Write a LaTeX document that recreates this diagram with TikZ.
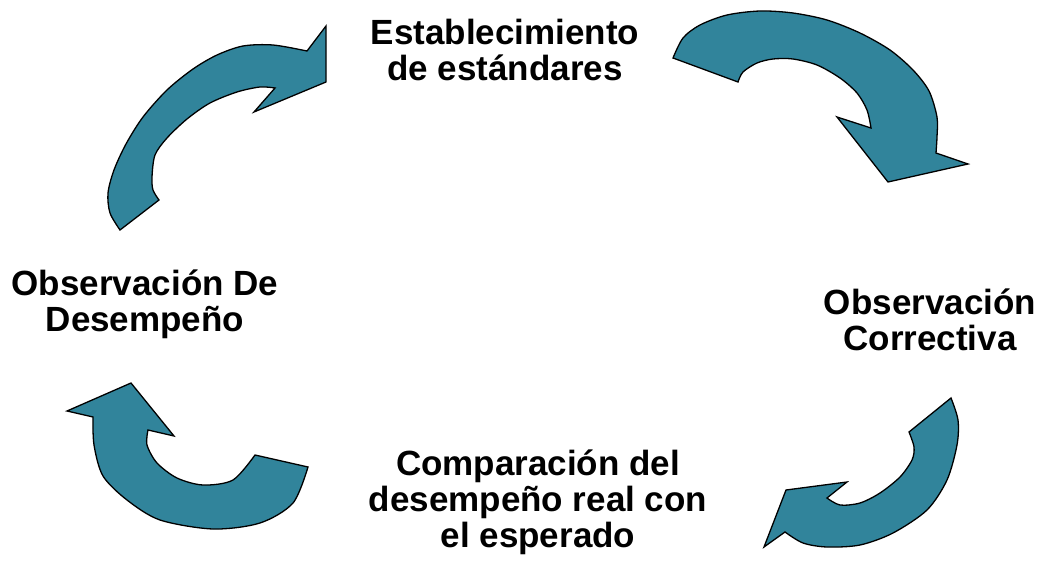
\documentclass[tikz,border=0pt]{standalone}
\usepackage{fontspec}
\setmainfont{Liberation Sans}
\definecolor{teal}{RGB}{49,132,155}
\begin{document}
\begin{tikzpicture}[x=1pt,y=-1pt,
  cyclearrow/.style={fill=teal,draw=black,line width=1.3pt,line join=miter},
  lbl/.style={align=center,inner sep=0pt,anchor=base,font=\bfseries\fontsize{35}{36}\selectfont}]
\useasboundingbox (0,0) rectangle (1042,572);
% arrow top-left
\draw[cyclearrow] (120,230) -- (159,200)
  -- plot[smooth] coordinates {(159,200) (153,190) (152,177) (155,155) (167,138) (187,119) (210,103) (237,92) (260,87) (275,88)}
  -- (254,112) -- (326,82) -- (326,26) -- (307,51)
  -- plot[smooth] coordinates {(307,51) (273,45) (243,46) (217,55) (193,69) (167,90) (143,117) (126,144) (114,170) (108,193) (110,213) (120,230)}
  -- cycle;
% arrow top-right
\draw[cyclearrow] (673,58) -- (738,82)
  -- plot[smooth] coordinates {(738,82) (743,72) (757,63) (773,59) (793,59) (817,65) (840,78) (857,93) (867,110) (871,128)}
  -- (837,117) -- (888,182) -- (968,164) -- (936,153)
  -- plot[smooth] coordinates {(936,153) (937,137) (937,117) (929,91) (913,70) (890,50) (860,33) (827,20) (793,13) (760,11) (727,15) (700,25) (683,38) (673,58)}
  -- cycle;
% arrow bottom-right
\draw[cyclearrow] (951,398) -- (909,432)
  -- plot[smooth] coordinates {(909,432) (914,447) (912,460) (900,477) (880,493) (860,503) (840,505) (827,498)}
  -- (847,482) -- (786,490) -- (764,547) -- (785,532)
  -- plot[smooth] coordinates {(785,532) (803,543) (827,547) (860,545) (893,533) (927,510) (947,480) (957,445) (958,420) (951,398)}
  -- cycle;
% arrow bottom-left
\draw[cyclearrow] (67,411) -- (131,383) -- (174,436) -- (148,430)
  -- plot[smooth] coordinates {(148,430) (147,445) (157,463) (177,478) (203,485) (233,480) (255,455)}
  -- (308,467)
  -- plot[smooth] coordinates {(308,467) (293,503) (260,523) (213,529) (160,520) (127,500) (103,476) (94,445) (93,417)}
  -- cycle;
% labels
\node[lbl] (top) at (505,81) {Establecimiento\\de estándares};
\node[lbl] (left) at (145,331) {Observación De\\Desempeño};
\node[lbl] (right) at (930,350) {Observación\\Correctiva};
\node[lbl] (bottom) at (538,547) {Comparación del\\desempeño real con\\el esperado};
\end{tikzpicture}
\end{document}
